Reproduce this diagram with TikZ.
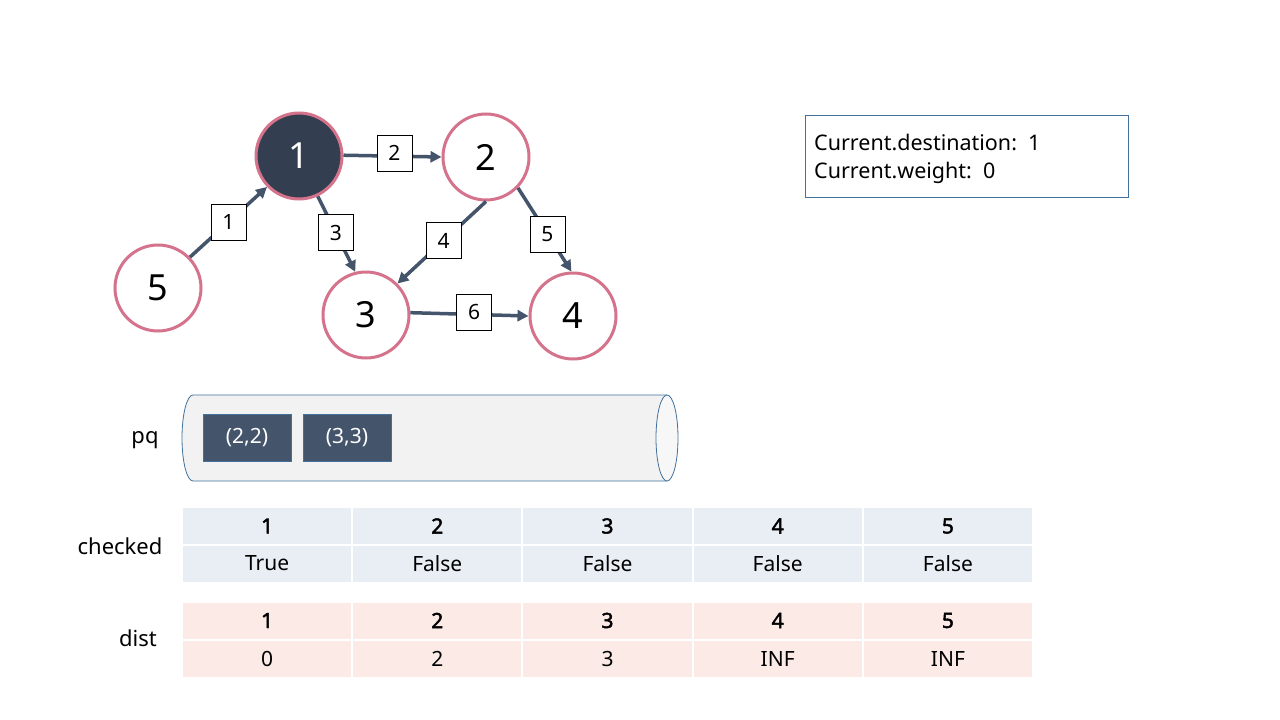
\documentclass[tikz,border=0pt]{standalone}
\usepackage{fontspec}
\setmainfont{Noto Sans}
\newfontfamily\hdrfont{Noto Sans}[FakeBold=2.2]
\usetikzlibrary{arrows.meta}
\definecolor{pinkc}{HTML}{D4738B}
\definecolor{darkfill}{HTML}{333F50}
\definecolor{edgec}{HTML}{44546A}
\definecolor{blueb}{HTML}{41719C}
\definecolor{cylfill}{HTML}{F2F2F2}
\definecolor{cylend}{HTML}{F7F7F7}
\definecolor{tblue}{HTML}{E9EDF4}
\definecolor{tpink}{HTML}{FBEAE6}
\definecolor{pqbox}{HTML}{44546A}
\begin{document}
\begin{tikzpicture}[x=1pt,y=-1pt,
  vert/.style={circle,draw=pinkc,line width=3pt,fill=white,minimum size=86pt,inner sep=0pt,font=\fontsize{36}{40}\selectfont},
  cur/.style={vert,fill=darkfill,text=white},
  edge/.style={draw=edgec,line width=3.5pt,-{Triangle[length=11pt,width=11pt]}},
  elab/.style={draw=black,fill=white,line width=0.8pt,minimum width=35pt,minimum height=36pt,inner sep=0pt,font=\fontsize{21}{24}\selectfont},
  lbl/.style={font=\fontsize{22}{26}\selectfont},
  pqitem/.style={draw=blueb,fill=pqbox,text=white,line width=0.6pt,minimum width=88pt,minimum height=47pt,inner sep=0pt,font=\fontsize{21}{24}\selectfont},
  cell/.style={draw=white,line width=2pt,minimum width=170.2pt,minimum height=38pt,inner sep=0pt,font=\fontsize{21}{25}\selectfont},
  hcell/.style={cell,font=\hdrfont\fontsize{21}{25}\selectfont}
]
\useasboundingbox (0,0) rectangle (1280,720);
\fill[white] (0,0) rectangle (1280,720);

% graph
\node[cur]  (n1) at (299,156) {1};
\node[vert] (n2) at (486,157) {2};
\node[vert] (n5) at (158,288) {5};
\node[vert] (n3) at (366,315) {3};
\node[vert] (n4) at (573,316) {4};

\draw[edge] (n5.44) -- node[elab,pos=0.5] {1} (n1.224);
\draw[edge] (n1.1) -- node[elab,pos=0.52,yshift=3pt] {2} (n2.180);
\draw[edge] (n1.-65) -- node[elab,pos=0.48] {3} (n3.104);
\draw[edge] (n2.270) -- node[elab,pos=0.48] {4} (n3.45);
\draw[edge] (n2.-44) -- node[elab,pos=0.55] {5} (n4.92);
\draw[edge] (n3.3) -- node[elab,pos=0.54,yshift=2pt] {6} (n4.180);

% info box
\node[draw=blueb,line width=0.8pt,minimum width=323pt,minimum height=82pt,inner sep=0pt] (info) at (966.5,156) {};
\node[anchor=west,align=left,font=\fontsize{21.5}{28}\selectfont,inner sep=0pt] (infotxt) at (814,159) {Current.destination:\ \ 1\\Current.weight:\ \ 0};

% priority queue
\node[lbl] (pq) at (145,440) {pq};
\fill[cylfill] (193,395) -- (667,395) -- (667,481) -- (193,481)
  .. controls (186.9,481) and (182,461.7) .. (182,438)
  .. controls (182,414.3) and (186.9,395) .. (193,395) -- cycle;
\draw[blueb,line width=0.8pt] (667,395) -- (193,395)
  .. controls (186.9,395) and (182,414.3) .. (182,438)
  .. controls (182,461.7) and (186.9,481) .. (193,481) -- (667,481);
\draw[blueb,line width=0.8pt,fill=cylend] (667,438) ellipse [x radius=11, y radius=43];
\node[pqitem] (q1) at (247,437.5) {(2,2)};
\node[pqitem] (q2) at (347,437.5) {(3,3)};

% tables
\node[lbl] (chk) at (120,546) {checked};
\node[lbl] (dst) at (138,638) {dist};
\foreach \i/\v in {1/True,2/False,3/False,4/False,5/False}{
  \node[hcell,fill=tblue] (ch\i) at ({182+170.2*(\i-0.5)},526) {\i};
  \node[cell,fill=tblue] (cv\i) at ({182+170.2*(\i-0.5)},563.5) {\v};
}
\foreach \i/\v in {1/0,2/2,3/3,4/INF,5/INF}{
  \node[hcell,fill=tpink] (dh\i) at ({182+170.2*(\i-0.5)},620.5) {\i};
  \node[cell,fill=tpink] (dv\i) at ({182+170.2*(\i-0.5)},659) {\v};
}
\end{tikzpicture}
\end{document}
